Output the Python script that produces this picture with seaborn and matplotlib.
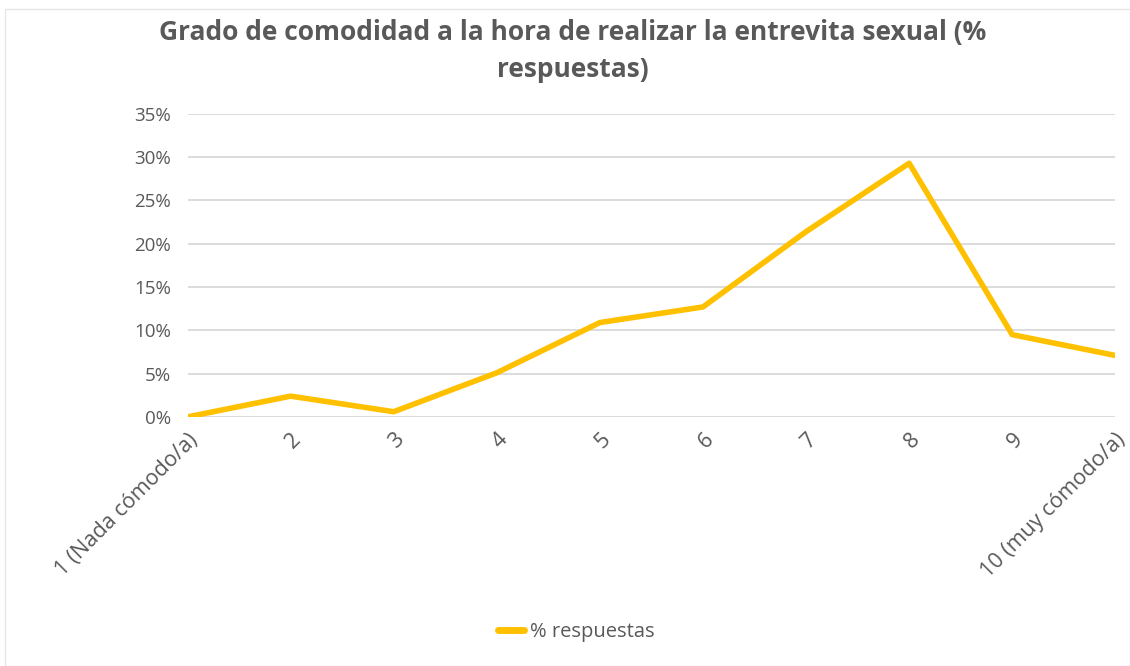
import matplotlib.pyplot as plt
import matplotlib.ticker as mtick
from matplotlib.patches import Rectangle
import pandas as pd
import seaborn as sns

# values
categorias = ["1 (Nada cómodo/a)", "2", "3", "4", "5", "6", "7", "8", "9", "10 (muy cómodo/a)"]
respuestas = [0.0, 0.024, 0.006, 0.051, 0.109, 0.127, 0.214, 0.293, 0.095, 0.071]
serie = "% respuestas"

df = pd.DataFrame({"grado": categorias, "valor": respuestas, "serie": serie})

sns.set_theme(style="white")
plt.rcParams["font.family"] = ["Open Sans", "DejaVu Sans"]

gris = "#595959"
fig = plt.figure(figsize=(11.3, 6.66), dpi=100)
ax = fig.add_axes([0.166, 0.374, 0.821, 0.455])

sns.lineplot(data=df, x="grado", y="valor", hue="serie", palette=["#FFC000"],
             linewidth=4, sort=False, ax=ax)

ax.set_xlim(0, len(categorias) - 1)
ax.set_ylim(0, 0.35)
ax.yaxis.set_major_locator(mtick.MultipleLocator(0.05))
ax.yaxis.set_major_formatter(mtick.PercentFormatter(1.0, decimals=0))
ax.grid(axis="y", color="#D9D9D9", linewidth=1.3)
ax.set_axisbelow(True)
for s in ax.spines.values():
    s.set_visible(False)
ax.set_xlabel("")
ax.set_ylabel("")
ax.tick_params(axis="y", labelsize=13.5, labelcolor=gris, pad=12, length=0)
ax.tick_params(axis="x", labelsize=15.5, labelcolor=gris, pad=9, length=0)
plt.setp(ax.get_xticklabels(), rotation=45, ha="right", rotation_mode="anchor")

ax.legend(loc="center", bbox_to_anchor=(0.51, 0.051), bbox_transform=fig.transFigure,
          frameon=False, fontsize=14.5, labelcolor=gris, handlelength=1.3, handletextpad=0.3)
ax.get_legend().get_lines()[0].set_linewidth(5)

fig.suptitle("Grado de comodidad a la hora de realizar la entrevita sexual (%\nrespuestas)",
             x=0.507, y=0.972, fontsize=19, fontweight="bold", color=gris, linespacing=1.5)

fig.patches.append(Rectangle((0.004, 0.0), 0.996, 0.986, transform=fig.transFigure,
                             fill=False, edgecolor="#E6E6E6", linewidth=1))

fig.savefig("out.png", dpi=100)
